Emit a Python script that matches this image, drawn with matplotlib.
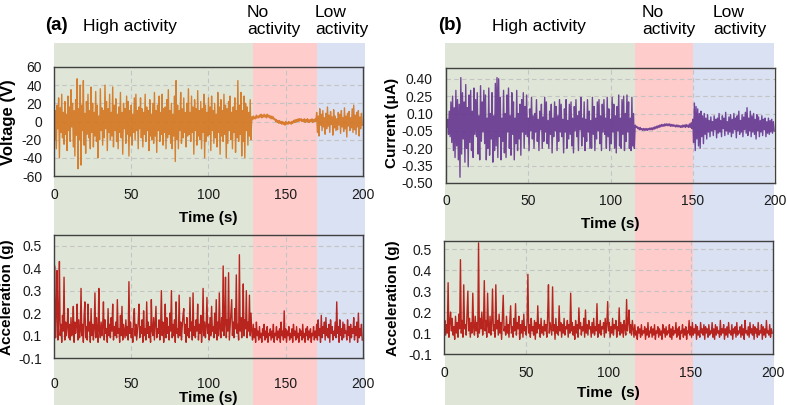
import numpy as np
import matplotlib
matplotlib.use("Agg")
import matplotlib.pyplot as plt
from matplotlib.ticker import FixedLocator, FormatStrFormatter

plt.rcParams["font.family"] = ["Liberation Sans", "DejaVu Sans"]
plt.rcParams["axes.unicode_minus"] = False

# ==============================
# Data (one sample every 0.5 s)
# ==============================
dt = 0.5

voltage_high = [
    34, -20, 12, -30, 18, -8, 26, -40, 15, -12, 30, -18, 10, -25, 22, -14,
    8, -32, 28, -10, 16, -22, 35, -6, 20, -28, 12, -38, 24, -15, 47, -52,
    14, -20, 40, -48, 18, -10, 45, -26, 9, -35, 22, -14, 30, -18, 12, -30,
    38, -12, 20, -28, 10, -16, 33, -22, 18, -40, 6, -20, 36, -10, 15, -26,
    12, -18, 40, -8, 22, -32, 14, -12, 30, -20, 10, -16, 38, -28, 18, -10,
    25, -22, 8, -30, 16, -12, 32, -18, 10, -36, 20, -8, 14, -24, 28, -14,
    22, -38, 12, -16, 18, -26, 8, -12, 26, -20, 30, -10, 12, -30, 16, -8,
    26, -18, 14, -28, 10, -14, 30, -22, 16, -10, 12, -32, 24, -16, 8, -20,
    20, -24, 32, -16, 12, -34, 18, -10, 28, -22, 10, -14, 30, -26, 14, -12,
    16, -30, 24, -18, 35, -14, 12, -24, 20, -30, 8, -16, 28, -44, 45, -20,
    18, -30, 12, -10, 32, -24, 14, -18, 26, -12, 10, -28, 20, -16, 36, -14,
    10, -22, 28, -12, 16, -36, 24, -10, 14, -26, 34, -16, 12, -20, 22, -30,
    14, -12, 30, -40, 18, -22, 10, -16, 26, -14, 16, -32, 28, -10, 12, -24,
    20, -18, 8, -28, 32, -12, 16, -36, 24, -16, 12, -22, 30, -14, 18, -40,
    14, -24, 22, -10, 28, -20, 10, -30, 16, -12, 26, -34, 12, -18, 45, -22,
    18, -14, 32, -38, 12, -22, 28, -40, 20, -10, 16, -26, 10, -16, 24, -20,
]
voltage_none = [
    5, 2, 6, 3, 5, 3, 7, 4, 6, 4, 7, 5, 8, 4, 7, 5, 8, 5, 7, 4,
    8, 5, 7, 4, 6, 3, 6, 3, 5, 2, 3, 0, 2, -1, 1, -2, 1, -2, 0, -3,
    0, -3, -1, -4, 0, -3, -1, -3, 0, -2, -1, -3, 0, -2, 1, -1, 2, -1, 2, 0,
    3, 0, 3, 1, 3, 0, 2, 0, 3, -1, 2, 0, 3, -1, 2, -1, 2, 0, 3, -1,
    2, 0, 3, 0,
]
voltage_low = [
    10, -12, 6, -16, 14, -4, 8, -10, 12, -6, 4, -14, 9, -8, 16, -5,
    7, -12, 11, -3, 5, -15, 13, -7, 6, -10, 3, -9, 10, -4, 8, -13,
    12, -6, 4, -11, 15, -8, 6, -17, 9, -5, 11, -10, 4, -7, 14, -12,
    18, -9, 7, -14, 10, -6, 12, -16, 5, -8, 9, -4,
]

current_high = [
    0.0, -0.02, 0.05, -0.08, 0.12, -0.1, 0.2, -0.15, 0.25, -0.22, 0.15, -0.28, 0.3, -0.18, 0.22, -0.3,
    0.18, -0.45, 0.41, -0.25, 0.28, -0.12, 0.2, -0.32, 0.35, -0.2, 0.15, -0.36, 0.26, -0.15, 0.3, -0.22,
    0.12, -0.28, 0.32, -0.08, 0.22, -0.1, 0.28, -0.25, 0.08, -0.3, 0.34, -0.14, 0.2, -0.06, 0.3, -0.16,
    0.26, -0.3, 0.06, -0.2, 0.32, -0.26, 0.1, -0.12, 0.28, -0.32, 0.08, -0.22, 0.36, -0.18, 0.41, -0.28,
    0.4, -0.1, 0.24, -0.3, 0.06, -0.14, 0.3, -0.24, 0.1, -0.28, 0.26, -0.06, 0.32, -0.2, 0.08, -0.26,
    0.28, -0.08, 0.2, -0.3, 0.06, -0.16, 0.3, -0.22, 0.1, -0.12, 0.18, -0.26, 0.22, -0.06, 0.28, -0.2,
    0.16, -0.08, 0.26, -0.1, 0.06, -0.22, 0.14, -0.05, 0.24, -0.12, 0.08, -0.2, 0.1, -0.06, 0.22, -0.14,
    0.05, -0.22, 0.12, -0.04, 0.18, -0.2, 0.07, -0.14, 0.24, -0.06, 0.2, -0.16, 0.04, -0.2, 0.12, -0.08,
    0.18, -0.24, 0.06, -0.1, 0.2, -0.05, 0.16, -0.22, 0.08, -0.14, 0.22, -0.06, 0.18, -0.1, 0.05, -0.24,
    0.14, -0.06, 0.22, -0.2, 0.04, -0.12, 0.18, -0.08, 0.2, -0.18, 0.06, -0.24, 0.16, -0.05, 0.22, -0.1,
    0.08, -0.22, 0.12, -0.04, 0.24, -0.18, 0.06, -0.1, 0.2, -0.22, 0.05, -0.14, 0.22, -0.06, 0.12, -0.2,
    0.04, -0.2, 0.24, -0.08, 0.16, -0.22, 0.06, -0.12, 0.2, -0.05, 0.22, -0.16, 0.08, -0.22, 0.18, -0.06,
    0.22, -0.08, 0.06, -0.2, 0.24, -0.1, 0.14, -0.22, 0.05, -0.16, 0.24, -0.06, 0.18, -0.2, 0.08, -0.24,
    0.16, -0.05, 0.26, -0.18, 0.06, -0.2, 0.22, -0.08, 0.25, -0.22, 0.1, -0.14, 0.26, -0.06, 0.2, -0.2,
    0.06, -0.22, 0.24, -0.18, 0.1, -0.2,
]
current_none = [
    0.0, -0.02, -0.01, -0.03, -0.02, -0.04, -0.02, -0.04, -0.03, -0.045,
    -0.03, -0.045, -0.03, -0.045, -0.03, -0.045, -0.03, -0.04, -0.025, -0.04,
    -0.025, -0.04, -0.02, -0.035, -0.015, -0.03, -0.01, -0.025, -0.005, -0.02,
    0.0, -0.015, 0.005, -0.01, 0.005, -0.01, 0.01, -0.005, 0.01, -0.005,
    0.01, -0.005, 0.01, -0.01, 0.005, -0.01, 0.005, -0.01, 0.0, -0.015,
    0.0, -0.015, 0.0, -0.015, -0.005, -0.02, -0.005, -0.02, 0.0, -0.015,
    0.0, -0.02, 0.005, -0.015, 0.0, -0.02, 0.01, -0.02, 0.02, -0.03,
]
current_low = [
    0.05, -0.15, 0.19, -0.22, 0.16, -0.12, 0.14, -0.18, 0.1, -0.2, 0.12, -0.1, 0.08, -0.16, 0.1, -0.08,
    0.06, -0.12, 0.09, -0.06, 0.04, -0.1, 0.07, -0.05, 0.03, -0.09, 0.08, -0.04, 0.05, -0.11, 0.06, -0.07,
    0.1, -0.06, 0.04, -0.1, 0.08, -0.03, 0.06, -0.09, 0.11, -0.05, 0.03, -0.08, 0.07, -0.06, 0.09, -0.1,
    0.05, -0.07, 0.1, -0.04, 0.06, -0.11, 0.08, -0.05, 0.12, -0.08, 0.04, -0.06, 0.09, -0.1, 0.07, -0.04,
    0.11, -0.07, 0.15, -0.09, 0.06, -0.05, 0.12, -0.1, 0.08, -0.06, 0.1, -0.08, 0.05, -0.12, 0.09, -0.05,
    0.07, -0.1, 0.04, -0.06, 0.08, -0.09, 0.05, -0.04, 0.06, -0.1, 0.03, -0.07, 0.06, -0.08, 0.04, -0.06,
    0.05, -0.07, 0.03, -0.05,
]

accel_a_high = [
    0.14, 0.41, 0.09, 0.2, 0.39, 0.08, 0.17, 0.43, 0.1, 0.15, 0.07, 0.19, 0.12, 0.36, 0.08, 0.16, 0.1, 0.14, 0.22, 0.09,
    0.15, 0.08, 0.18, 0.1, 0.13, 0.23, 0.07, 0.16, 0.11, 0.14, 0.24, 0.08, 0.17, 0.09, 0.12, 0.31, 0.1, 0.15, 0.07, 0.19,
    0.25, 0.09, 0.14, 0.08, 0.24, 0.12, 0.16, 0.07, 0.22, 0.1, 0.15, 0.08, 0.13, 0.29, 0.09, 0.18, 0.11, 0.07, 0.31, 0.12,
    0.09, 0.16, 0.1, 0.14, 0.25, 0.08, 0.17, 0.11, 0.13, 0.07, 0.22, 0.1, 0.15, 0.09, 0.18, 0.12, 0.24, 0.08, 0.14, 0.1,
    0.16, 0.09, 0.26, 0.11, 0.13, 0.07, 0.19, 0.1, 0.23, 0.08, 0.15, 0.12, 0.09, 0.17, 0.1, 0.14, 0.08, 0.34, 0.11, 0.16,
    0.09, 0.13, 0.07, 0.18, 0.22, 0.1, 0.15, 0.08, 0.12, 0.16, 0.24, 0.09, 0.14, 0.11, 0.17, 0.07, 0.21, 0.1, 0.13, 0.08,
    0.25, 0.11, 0.16, 0.09, 0.14, 0.07, 0.26, 0.12, 0.1, 0.18, 0.08, 0.15, 0.23, 0.09, 0.13, 0.11, 0.17, 0.08, 0.14, 0.3,
    0.1, 0.16, 0.07, 0.13, 0.24, 0.09, 0.18, 0.11, 0.14, 0.08, 0.2, 0.12, 0.3, 0.09, 0.15, 0.1, 0.17, 0.07, 0.25, 0.11,
    0.13, 0.09, 0.28, 0.1, 0.16, 0.08, 0.14, 0.19, 0.22, 0.11, 0.15, 0.07, 0.18, 0.1, 0.13, 0.09, 0.27, 0.12, 0.16, 0.08,
    0.29, 0.1, 0.14, 0.09, 0.17, 0.12, 0.24, 0.08, 0.15, 0.11, 0.19, 0.07, 0.13, 0.31, 0.1, 0.16, 0.09, 0.14, 0.27, 0.11,
    0.15, 0.08, 0.18, 0.1, 0.23, 0.12, 0.14, 0.09, 0.2, 0.11, 0.26, 0.08, 0.16, 0.1, 0.29, 0.13, 0.09, 0.18, 0.12, 0.41,
    0.1, 0.15, 0.36, 0.09, 0.17, 0.12, 0.38, 0.08, 0.14, 0.2, 0.26, 0.1, 0.16, 0.09, 0.22, 0.13, 0.37, 0.11, 0.15, 0.08,
    0.46, 0.12, 0.18, 0.09, 0.15, 0.33, 0.1, 0.17, 0.13, 0.3, 0.09, 0.16, 0.12, 0.28, 0.1, 0.2,
]
accel_a_none = [
    0.12, 0.08, 0.15, 0.09, 0.13, 0.07, 0.16, 0.1, 0.12, 0.08, 0.14, 0.09, 0.11, 0.07, 0.13, 0.1, 0.15, 0.08, 0.12, 0.09,
    0.14, 0.07, 0.11, 0.1, 0.13, 0.08, 0.12, 0.09, 0.15, 0.07, 0.11, 0.1, 0.14, 0.08, 0.12, 0.09, 0.13, 0.07, 0.16, 0.1,
    0.12, 0.08, 0.21, 0.09, 0.13, 0.07, 0.12, 0.1, 0.14, 0.08, 0.11, 0.09, 0.13, 0.07, 0.15, 0.1, 0.12, 0.08, 0.14, 0.09,
    0.11, 0.07, 0.13, 0.1, 0.12, 0.08, 0.15, 0.09, 0.11, 0.07, 0.13, 0.1, 0.14, 0.08, 0.12, 0.09, 0.13, 0.07, 0.11, 0.1,
    0.14, 0.08, 0.12, 0.09,
]
accel_a_low = [
    0.15, 0.08, 0.17, 0.1, 0.13, 0.07, 0.19, 0.09, 0.14, 0.11, 0.16, 0.08, 0.18, 0.1, 0.13, 0.09, 0.15, 0.07, 0.17, 0.11,
    0.14, 0.08, 0.12, 0.1, 0.16, 0.09, 0.25, 0.11, 0.14, 0.07, 0.17, 0.1, 0.13, 0.08, 0.16, 0.09, 0.15, 0.11, 0.12, 0.08,
    0.17, 0.1, 0.14, 0.07, 0.15, 0.09, 0.13, 0.11, 0.18, 0.08, 0.14, 0.1, 0.16, 0.07, 0.2, 0.09, 0.13, 0.1, 0.15, 0.08,
]

accel_b_high = [
    0.12, 0.16, 0.09, 0.14, 0.1, 0.34, 0.08, 0.15, 0.2, 0.11, 0.17, 0.09, 0.13, 0.07, 0.18, 0.1, 0.15, 0.08, 0.19, 0.12,
    0.45, 0.1, 0.16, 0.08, 0.33, 0.12, 0.14, 0.09, 0.19, 0.3, 0.11, 0.17, 0.08, 0.15, 0.1, 0.29, 0.13, 0.09, 0.18, 0.11,
    0.15, 0.08, 0.53, 0.1, 0.17, 0.12, 0.2, 0.09, 0.14, 0.35, 0.11, 0.16, 0.08, 0.29, 0.13, 0.1, 0.18, 0.09, 0.15, 0.31,
    0.11, 0.14, 0.08, 0.33, 0.12, 0.16, 0.09, 0.19, 0.1, 0.15, 0.07, 0.17, 0.28, 0.11, 0.13, 0.09, 0.18, 0.1, 0.14, 0.08,
    0.16, 0.23, 0.1, 0.13, 0.08, 0.17, 0.11, 0.24, 0.09, 0.15, 0.12, 0.18, 0.07, 0.14, 0.1, 0.16, 0.08, 0.19, 0.11, 0.13,
    0.09, 0.15, 0.38, 0.1, 0.14, 0.08, 0.17, 0.11, 0.13, 0.09, 0.16, 0.07, 0.15, 0.1, 0.23, 0.12, 0.14, 0.08, 0.17, 0.1,
    0.13, 0.09, 0.16, 0.11, 0.14, 0.08, 0.18, 0.33, 0.1, 0.15, 0.12, 0.09, 0.32, 0.11, 0.14, 0.07, 0.17, 0.1, 0.13, 0.09,
    0.23, 0.11, 0.15, 0.08, 0.14, 0.1, 0.17, 0.09, 0.13, 0.12, 0.16, 0.08, 0.14, 0.1, 0.29, 0.11, 0.15, 0.09, 0.13, 0.07,
    0.16, 0.1, 0.14, 0.08, 0.22, 0.12, 0.15, 0.09, 0.13, 0.11, 0.17, 0.08, 0.21, 0.1, 0.14, 0.09, 0.16, 0.12, 0.13, 0.08,
    0.15, 0.1, 0.17, 0.09, 0.13, 0.11, 0.24, 0.08, 0.14, 0.1, 0.16, 0.09, 0.13, 0.12, 0.15, 0.08, 0.17, 0.1, 0.14, 0.25,
    0.11, 0.15, 0.08, 0.13, 0.1, 0.17, 0.09, 0.14, 0.12, 0.16, 0.08, 0.13, 0.11, 0.22, 0.09, 0.15, 0.1, 0.14, 0.08, 0.16,
    0.12, 0.09, 0.26, 0.11, 0.15, 0.21, 0.1, 0.14, 0.09, 0.16,
]
accel_b_none = [
    0.12, 0.08, 0.14, 0.09, 0.11, 0.07, 0.13, 0.1, 0.12, 0.08, 0.14, 0.09, 0.11, 0.1, 0.13, 0.07, 0.12, 0.09, 0.15, 0.08,
    0.11, 0.1, 0.13, 0.08, 0.12, 0.09, 0.14, 0.07, 0.11, 0.1, 0.13, 0.08, 0.12, 0.09, 0.11, 0.07, 0.14, 0.1, 0.12, 0.08,
    0.13, 0.09, 0.11, 0.1, 0.14, 0.08, 0.12, 0.07, 0.13, 0.09, 0.11, 0.1, 0.15, 0.08, 0.12, 0.09, 0.13, 0.07, 0.11, 0.1,
    0.14, 0.08, 0.12, 0.09, 0.13, 0.07, 0.11, 0.1, 0.16, 0.09,
]
accel_b_low = [
    0.13, 0.08, 0.15, 0.09, 0.12, 0.1, 0.14, 0.07, 0.13, 0.09, 0.11, 0.08, 0.15, 0.1, 0.12, 0.09, 0.14, 0.07, 0.13, 0.1,
    0.12, 0.08, 0.14, 0.09, 0.11, 0.1, 0.15, 0.08, 0.12, 0.07, 0.14, 0.09, 0.13, 0.1, 0.11, 0.08, 0.16, 0.09, 0.12, 0.1,
    0.14, 0.07, 0.12, 0.09, 0.13, 0.08, 0.15, 0.1, 0.11, 0.09, 0.14, 0.07, 0.12, 0.1, 0.13, 0.08, 0.15, 0.09, 0.11, 0.1,
    0.13, 0.08, 0.14, 0.09, 0.12, 0.07, 0.16, 0.1, 0.11, 0.09, 0.13, 0.08, 0.15, 0.1, 0.12, 0.09, 0.14, 0.07, 0.13, 0.1,
    0.12, 0.08, 0.15, 0.09, 0.11, 0.1, 0.14, 0.07, 0.13, 0.09, 0.12, 0.08, 0.16, 0.1, 0.11, 0.09, 0.14, 0.08, 0.12, 0.1,
]

# activity region edges (s)
bounds_a = [0, 128.5, 170, 201.3]
bounds_b = [0, 115, 150, 199.5]

time_ticks = [0, 50, 100, 150, 200]
voltage_ticks = [-60, -40, -20, 0, 20, 40, 60]
current_ticks = [-0.50, -0.35, -0.20, -0.05, 0.10, 0.25, 0.40]
accel_ticks = [0.0, 0.1, 0.2, 0.3, 0.4, 0.5]
accel_ticklabels = ["-0.1", "0.1", "0.2", "0.3", "0.4", "0.5"]

# ==============================
# Setup
# ==============================
W, H = 787, 405
fig = plt.figure(figsize=(W / 100, H / 100), dpi=100)

region_colors = ["#dfe6d7", "#ffcccc", "#d9e1f2"]


def fx(px):
    return px / W


def fy(py):
    return 1 - py / H


def rect(left, top, right, bottom):
    return [fx(left), fy(bottom), fx(right) - fx(left), fy(top) - fy(bottom)]


def shade(left, right, bounds):
    bg = fig.add_axes([fx(left), 0, fx(right) - fx(left), fy(43)], zorder=0)
    bg.set_xlim(0, 200)
    bg.set_ylim(0, 1)
    bg.axis("off")
    for x0, x1, c in zip(bounds[:-1], bounds[1:], region_colors):
        bg.axvspan(x0, x1, color=c, lw=0, clip_on=False)


def panel(box, segments, color, ylim, yticks, tick_pad, xlabel, xlabel_pad):
    ax = fig.add_axes(box, zorder=1)
    ax.set_facecolor("none")
    y = np.concatenate([np.asarray(s, dtype=float) for s in segments])
    t = np.arange(len(y)) * dt
    ax.plot(t, y, color=color, lw=1.0, alpha=0.9)
    ax.set_xlim(0, 200)
    ax.set_ylim(*ylim)
    ax.xaxis.set_major_locator(FixedLocator(time_ticks))
    ax.yaxis.set_major_locator(FixedLocator(yticks))
    ax.set_axisbelow(True)
    ax.grid(True, ls=(0, (4, 3)), color="#c4c4c4", lw=0.8)
    for s in ax.spines.values():
        s.set_color("#404040")
        s.set_linewidth(1.0)
    ax.tick_params(axis="x", length=0, labelsize=10, labelcolor="#1a1a1a", pad=tick_pad)
    ax.tick_params(axis="y", length=0, labelsize=10, labelcolor="#1a1a1a", pad=8.6)
    ax.set_xlabel(xlabel, fontsize=11, fontweight="bold", labelpad=xlabel_pad)
    return ax


# ==============================
# Background activity regions
# ==============================
shade(54, 363, bounds_a)
shade(445, 775, bounds_b)

# ==============================
# Panels
# ==============================
ax1 = panel(rect(54, 67, 363, 176), [voltage_high, voltage_none, voltage_low],
            "#d4741e", (-60, 60), voltage_ticks, 8.6, "Time (s)", 6.5)

ax2 = panel(rect(54, 235, 363, 358), [accel_a_high, accel_a_none, accel_a_low],
            "#b3100a", (0, 0.548), accel_ticks, 13.5, "Time (s)", 0.5)
ax2.set_yticklabels(accel_ticklabels)

ax3 = panel(rect(446, 68, 775, 183), [current_high, current_none, current_low],
            "#66358f", (-0.5, 0.493), current_ticks, 8.0, "Time (s)", 6.5)
ax3.yaxis.set_major_formatter(FormatStrFormatter("%.2f"))
ax3.tick_params(axis="y", pad=9.4)

ax4 = panel(rect(444, 241, 773, 354), [accel_b_high, accel_b_none, accel_b_low],
            "#b3100a", (0, 0.539), accel_ticks, 8.6, "Time  (s)", 4.3)
ax4.set_yticklabels(accel_ticklabels)

# ==============================
# Axis titles and region labels
# ==============================
fig.text(fx(9), fy(122), "Voltage (V)", rotation=90, fontsize=12,
         fontweight="bold", ha="center", va="center")
fig.text(fx(7), fy(297), "Acceleration (g)", rotation=90, fontsize=11,
         fontweight="bold", ha="center", va="center")
fig.text(fx(392), fy(123), "Current (\u03bcA)", rotation=90, fontsize=11,
         fontweight="bold", ha="center", va="center")
fig.text(fx(393), fy(298), "Acceleration (g)", rotation=90, fontsize=11,
         fontweight="bold", ha="center", va="center")

for tag, x_tag, x_high, x_no, x_low in [("(a)", 56, 130, 247, 315),
                                        ("(b)", 450, 539, 642, 713)]:
    fig.text(fx(x_tag), fy(26), tag, fontsize=13.5, fontweight="bold",
             ha="center", va="center")
    fig.text(fx(x_high), fy(27), "High activity", fontsize=12.5,
             ha="center", va="center")
    fig.text(fx(x_no), fy(21), "No\nactivity", fontsize=12.5,
             ha="left", va="center", linespacing=1.1)
    fig.text(fx(x_low), fy(21), "Low\nactivity", fontsize=12.5,
             ha="left", va="center", linespacing=1.1)

# ==============================
# Save
# ==============================
fig.savefig("out.png", dpi=100)
